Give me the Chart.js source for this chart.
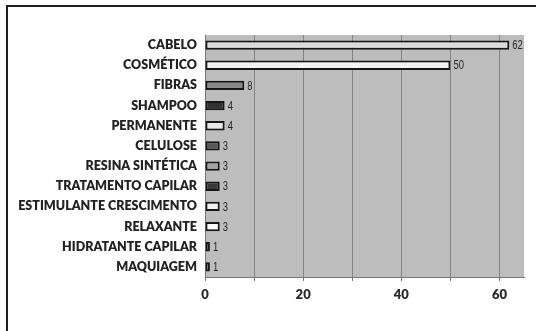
<!DOCTYPE html>
<html>
<head>
<meta charset="utf-8">
<script src="https://cdn.jsdelivr.net/npm/chart.js@4/dist/chart.umd.min.js"></script>
<style>
  html, body { margin: 0; padding: 0; background: #fff; overflow: hidden; }
  #wrap { position: relative; width: 536px; height: 331px; }
  #frame { position: absolute; left: 6px; top: 5px; width: 600px; height: 400px;
           border: 2px solid #1e1e1e; box-sizing: border-box; pointer-events: none; }
  canvas { position: absolute; left: 0; top: 0; }
</style>
</head>
<body>
<div id="wrap">
  <canvas id="c" width="536" height="331"></canvas>
  <div id="frame"></div>
</div>
<script>
const categories = ['CABELO', 'COSMÉTICO', 'FIBRAS', 'SHAMPOO', 'PERMANENTE', 'CELULOSE',
  'RESINA SINTÉTICA', 'TRATAMENTO CAPILAR', 'ESTIMULANTE CRESCIMENTO', 'RELAXANTE',
  'HIDRATANTE CAPILAR', 'MAQUIAGEM'];
const values = [62, 50, 8, 4, 4, 3, 3, 3, 3, 3, 1, 1];
const barFills = ['#dcdcdc', '#f3f3f3', '#8a8a8a', '#323232', '#e8e8e8', '#585858',
  '#a2a2a2', '#3a3a3a', '#f2f2f2', '#fafafa', '#555555', '#9a9a9a'];
const tickLabels = { 0: '0', 20: '20', 40: '40', 60: '60' };

const labelFont = "'Liberation Sans', Arial, sans-serif";
const axisFont = "Lato, 'Open Sans', sans-serif";

// grey plot background behind the bars
const plotBg = {
  id: 'plotBg',
  beforeDraw(chart) {
    const { ctx, chartArea: a } = chart;
    ctx.save();
    ctx.fillStyle = '#bdbdbd';
    ctx.fillRect(a.left, a.top, a.right - a.left, a.bottom - a.top);
    ctx.restore();
  }
};

// value printed just past the end of each bar, in a condensed face
const valueLabels = {
  id: 'valueLabels',
  afterDatasetsDraw(chart) {
    const { ctx } = chart;
    const meta = chart.getDatasetMeta(0);
    const squeeze = 0.7;
    ctx.save();
    ctx.font = '13.5px ' + labelFont;
    ctx.fillStyle = '#262626';
    ctx.textAlign = 'left';
    ctx.textBaseline = 'middle';
    meta.data.forEach((bar, i) => {
      ctx.save();
      ctx.translate(bar.x + 3, bar.y + 0.5);
      ctx.scale(squeeze, 1);
      ctx.fillText(String(values[i]), 0, 0);
      ctx.restore();
    });
    ctx.restore();
  }
};

new Chart(document.getElementById('c'), {
  type: 'bar',
  data: {
    labels: categories,
    datasets: [{
      data: values,
      backgroundColor: barFills,
      borderColor: '#161616',
      borderWidth: 2,
      borderSkipped: false,
      categoryPercentage: 1,
      barPercentage: 0.46
    }]
  },
  options: {
    indexAxis: 'y',
    responsive: false,
    animation: false,
    devicePixelRatio: 1,
    layout: { padding: { top: 35, right: 12, left: 0, bottom: 0 } },
    plugins: { legend: { display: false }, tooltip: { enabled: false } },
    scales: {
      x: {
        min: 0, max: 65,
        afterFit(s) { s.height = 54; },
        afterBuildTicks(s) {
          s.ticks = [0, 10, 20, 30, 40, 50, 60].map(v => ({ value: v }));
        },
        ticks: {
          autoSkip: false,
          maxRotation: 0,
          padding: 6,
          color: '#2a2a2a',
          font: { family: axisFont, size: 13, weight: 800 },
          callback: v => tickLabels[v] ?? ''
        },
        grid: { color: '#858585', lineWidth: 1, tickLength: 4, tickColor: '#777' },
        border: { color: '#777', width: 1 }
      },
      y: {
        afterFit(s) { s.width = 205; },
        ticks: {
          padding: 8,
          color: '#222',
          font: { family: axisFont, size: 12.5, weight: 800 }
        },
        grid: { display: false, drawTicks: false },
        border: { color: '#777', width: 1 }
      }
    }
  },
  plugins: [plotBg, valueLabels]
});
</script>
</body>
</html>
